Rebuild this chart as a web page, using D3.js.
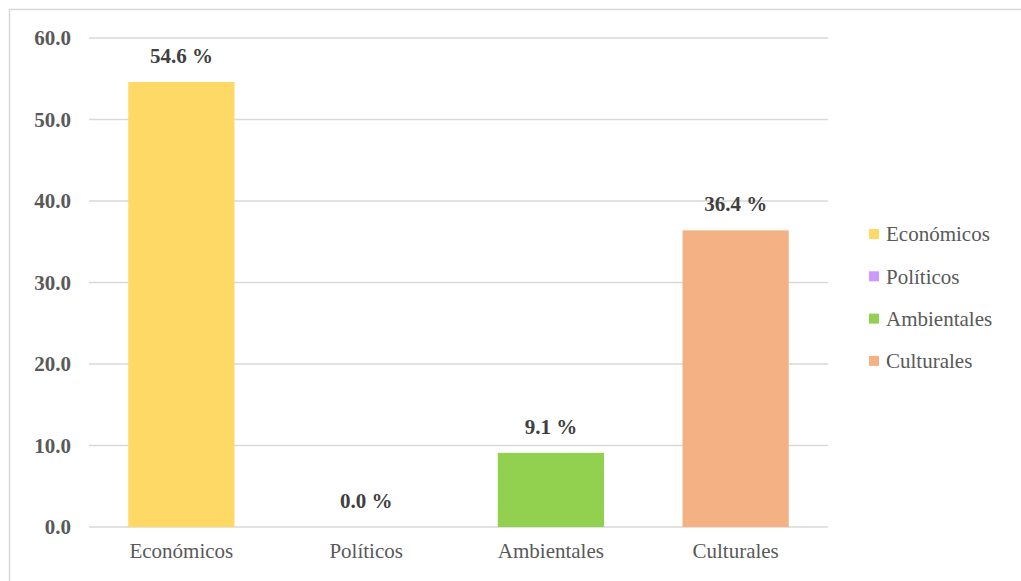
<!DOCTYPE html>
<html><head><meta charset="utf-8">
<script src="https://cdn.jsdelivr.net/npm/d3@7"></script>
<style>body{margin:0;background:#fff}svg{display:block}</style>
</head><body>
<svg id="c" width="1021" height="581"></svg>
<script>
const categories = ["Económicos","Políticos","Ambientales","Culturales"];
const values = [54.6, 0.0, 9.1, 36.4];
const colors = ["#FFD966","#CC99FF","#92D050","#F4B183"];
const yTicks = [0,10,20,30,40,50,60];

const FF = "Liberation Serif";
const svg = d3.select("#c");
svg.append("rect").attr("x",9.5).attr("y",9.5).attr("width",1030).attr("height",600)
  .attr("fill","none").attr("stroke","#d9d9d9").attr("stroke-width",1.5);

const m = {l:89, r:828, t:38, b:527};
const x = d3.scaleBand().domain(categories).range([m.l,m.r]).paddingInner(0.425).paddingOuter(0.2125);
const y = d3.scaleLinear().domain([0,60]).range([m.b,m.t]);

const g = svg.append("g");
g.selectAll("line.grid").data(yTicks).join("line").attr("class","grid")
  .attr("x1",m.l).attr("x2",m.r).attr("y1",d=>y(d)).attr("y2",d=>y(d))
  .attr("stroke","#d9d9d9").attr("stroke-width",1.5);

const yAxis = svg.append("g").attr("transform",`translate(${m.l},0)`)
  .call(d3.axisLeft(y).tickValues(yTicks).tickFormat(d3.format(".1f")).tickSize(0).tickPadding(18));
yAxis.attr("font-family",FF);
yAxis.select(".domain").remove();
yAxis.selectAll("text").attr("font-family",FF).attr("font-size",21).attr("font-weight","bold").attr("fill","#595959");

g.selectAll("rect.bar").data(values).join("rect").attr("class","bar")
  .attr("x",(d,i)=>x(categories[i])).attr("width",x.bandwidth())
  .attr("y",d=>y(d)).attr("height",d=>y(0)-y(d)).attr("fill",(d,i)=>colors[i]);

g.selectAll("text.lbl").data(values).join("text").attr("class","lbl")
  .attr("x",(d,i)=>x(categories[i])+x.bandwidth()/2).attr("y",d=>y(d)-19)
  .attr("text-anchor","middle").attr("font-family",FF).attr("font-size",21).attr("font-weight","bold")
  .attr("fill","#404040").text(d=>d.toFixed(1)+" %");

const xAxis = svg.append("g").attr("transform",`translate(0,${m.b})`)
  .call(d3.axisBottom(x).tickSize(0).tickPadding(16));
xAxis.attr("font-family",FF);
xAxis.select(".domain").remove();
xAxis.selectAll("text").attr("font-family",FF).attr("font-size",21).attr("fill","#595959");

const leg = svg.append("g");
categories.forEach((c,i)=>{
  const cy = 234 + i*42.3;
  leg.append("rect").attr("x",869).attr("y",cy-5).attr("width",10).attr("height",10).attr("fill",colors[i]);
  leg.append("text").attr("x",886).attr("y",cy).attr("dy","0.35em")
    .attr("font-family",FF).attr("font-size",21).attr("fill","#595959").text(c);
});
</script>
</body></html>
